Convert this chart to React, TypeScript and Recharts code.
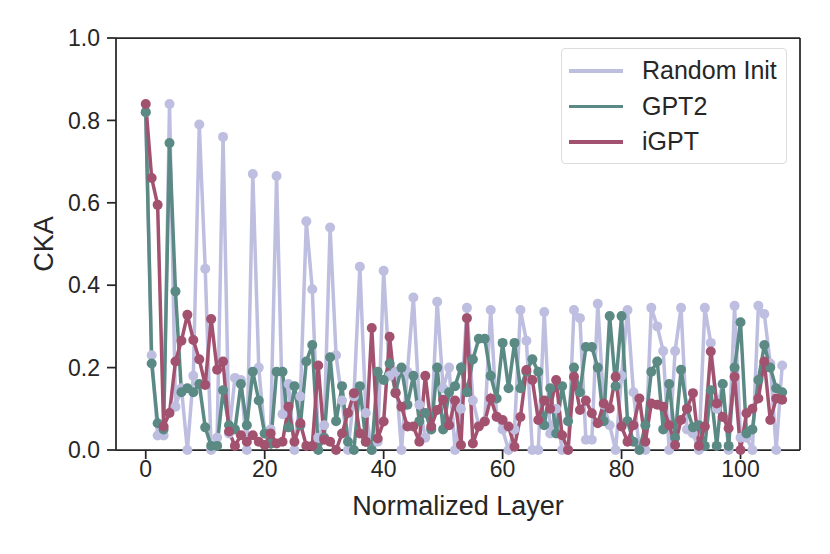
import React from 'react';
import { LineChart, Line, XAxis, YAxis, ReferenceLine, Label } from 'recharts';

// CKA per normalized layer
const layers = Array.from({ length: 108 }, (_, i) => i);

const randomInit = [
  0.82, 0.23, 0.035, 0.035, 0.84, 0.105, 0.15, 0.0, 0.18, 0.79,
  0.44, 0.0, 0.03, 0.76, 0.04, 0.175, 0.17, 0.0, 0.67, 0.2,
  0.04, 0.05, 0.665, 0.087, 0.16, 0.0, 0.13, 0.555, 0.39, 0.03,
  0.06, 0.54, 0.23, 0.12, 0.0, 0.13, 0.445, 0.09, 0.0, 0.02,
  0.435, 0.18, 0.19, 0.0, 0.19, 0.37, 0.11, 0.03, 0.05, 0.36,
  0.15, 0.2, 0.0, 0.1, 0.345, 0.12, 0.06, 0.07, 0.34, 0.08,
  0.05, 0.0, 0.05, 0.34, 0.265, 0.0, 0.0, 0.335, 0.04, 0.1,
  0.0, 0.0, 0.34, 0.32, 0.025, 0.025, 0.355, 0.11, 0.06, 0.0,
  0.18, 0.34, 0.14, 0.0, 0.0, 0.345, 0.3, 0.24, 0.0, 0.24,
  0.345, 0.05, 0.04, 0.0, 0.345, 0.26, 0.1, 0.16, 0.0, 0.35,
  0.03, 0.03, 0.0, 0.35, 0.33, 0.21, 0.0, 0.205,
];

const gpt2 = [
  0.82, 0.21, 0.065, 0.05, 0.745, 0.385, 0.14, 0.15, 0.14, 0.16,
  0.055, 0.01, 0.01, 0.145, 0.06, 0.05, 0.16, 0.06, 0.19, 0.12,
  0.04, 0.015, 0.19, 0.19, 0.055, 0.155, 0.06, 0.215, 0.255, 0.0,
  0.03, 0.225, 0.07, 0.155, 0.02, 0.0, 0.155, 0.02, 0.0, 0.19,
  0.17, 0.21, 0.14, 0.2, 0.11, 0.18, 0.07, 0.09, 0.05, 0.2,
  0.05, 0.14, 0.155, 0.2, 0.14, 0.22, 0.27, 0.27, 0.18, 0.125,
  0.26, 0.15, 0.26, 0.15, 0.19, 0.22, 0.19, 0.06, 0.15, 0.04,
  0.155, 0.07, 0.2, 0.14, 0.25, 0.25, 0.2, 0.07, 0.325, 0.155,
  0.325, 0.07, 0.02, 0.0, 0.06, 0.19, 0.215, 0.05, 0.16, 0.03,
  0.195, 0.1, 0.055, 0.06, 0.01, 0.145, 0.01, 0.16, 0.01, 0.2,
  0.31, 0.04, 0.05, 0.17, 0.255, 0.2, 0.15, 0.14,
];

const igpt = [
  0.84, 0.66, 0.595, 0.057, 0.09, 0.215, 0.265, 0.328, 0.267, 0.22,
  0.158, 0.318, 0.195, 0.215, 0.045, 0.01, 0.036, 0.02, 0.036, 0.02,
  0.012, 0.04, 0.016, 0.02, 0.105, 0.02, 0.065, 0.01, 0.01, 0.205,
  0.025, 0.02, 0.0, 0.04, 0.09, 0.138, 0.04, 0.02, 0.296, 0.028,
  0.069, 0.275, 0.138, 0.105, 0.057, 0.057, 0.02, 0.18, 0.057, 0.097,
  0.122, 0.06, 0.12, 0.012, 0.32, 0.016, 0.057, 0.069, 0.125, 0.081,
  0.073, 0.057, 0.008, 0.08, 0.194, 0.17, 0.073, 0.12, 0.1, 0.17,
  0.036, 0.0, 0.178, 0.097, 0.12, 0.089, 0.065, 0.113, 0.101, 0.178,
  0.057, 0.02, 0.06, 0.125, 0.02, 0.113, 0.11, 0.105, 0.06, 0.012,
  0.073, 0.1, 0.138, 0.01, 0.057, 0.239, 0.113, 0.08, 0.053, 0.178,
  0.0, 0.089, 0.1, 0.125, 0.215, 0.073, 0.125, 0.122,
];

const xTicks = [0, 20, 40, 60, 80, 100];
const yTicks = [0, 0.2, 0.4, 0.6, 0.8, 1.0];

const SERIES = [
  { key: 'random', name: 'Random Init', color: '#bebee0' },
  { key: 'gpt2', name: 'GPT2', color: '#5b8a85' },
  { key: 'igpt', name: 'iGPT', color: '#a2526f' },
];

const INK = '#262626';
const FONT = '"Liberation Sans", Arial, sans-serif';

const data = layers.map((layer, i) => ({
  layer,
  random: randomInit[i],
  gpt2: gpt2[i],
  igpt: igpt[i],
}));

// legend drawn as an overlay so it doesn't push the plot area around
const LegendBox = () => (
  <div
    style={{
      position: 'absolute',
      left: 561,
      top: 48,
      width: 226,
      height: 116,
      border: '1px solid #dcdcdc',
      borderRadius: 4,
      background: 'rgba(255,255,255,0.8)',
      boxSizing: 'border-box',
      paddingTop: 4,
      fontFamily: FONT,
    }}
  >
    {SERIES.map((s) => (
      <div key={s.key} style={{ display: 'flex', alignItems: 'center', height: 35.5 }}>
        <div style={{ width: 54, height: 3.5, background: s.color, marginLeft: 7, marginRight: 19 }} />
        <span style={{ fontSize: 25, color: INK }}>{s.name}</span>
      </div>
    ))}
  </div>
);

const App: React.FC = () => {
  return (
    <div style={{ position: 'relative', width: 830, height: 554, background: '#fff' }}>
      <style>{'body { margin: 0; }'}</style>
      <LineChart width={830} height={554} data={data} margin={{ top: 38, right: 30, left: 0, bottom: 0 }}>
        <XAxis
          dataKey="layer"
          type="number"
          domain={[-5, 110]}
          ticks={xTicks}
          allowDataOverflow
          height={104}
          stroke={INK}
          strokeWidth={1.75}
          tickSize={9}
          tick={{ fill: INK, fontSize: 23, fontFamily: FONT }}
          tickMargin={2}
        >
          <Label
            value="Normalized Layer"
            position="insideTop"
            offset={46}
            style={{ fill: INK, fontSize: 27, fontFamily: FONT }}
          />
        </XAxis>
        <YAxis
          type="number"
          domain={[0, 1]}
          ticks={yTicks}
          width={116}
          stroke={INK}
          strokeWidth={1.75}
          tickSize={9}
          tickMargin={7}
          tickFormatter={(v: number) => v.toFixed(1)}
          tick={{ fill: INK, fontSize: 23, fontFamily: FONT }}
        >
          <Label
            value="CKA"
            angle={-90}
            position="insideLeft"
            offset={43}
            style={{ fill: INK, fontSize: 27, fontFamily: FONT, textAnchor: 'middle' }}
          />
        </YAxis>
        <ReferenceLine y={1} stroke={INK} strokeWidth={1.75} />
        <ReferenceLine x={110} stroke={INK} strokeWidth={1.75} />
        {SERIES.map((s) => (
          <Line
            key={s.key}
            type="linear"
            dataKey={s.key}
            name={s.name}
            stroke={s.color}
            strokeWidth={3.5}
            dot={{ r: 5, fill: s.color, stroke: s.color, strokeWidth: 0 }}
            activeDot={false}
            isAnimationActive={false}
          />
        ))}
      </LineChart>
      <LegendBox />
    </div>
  );
};

export default App;
